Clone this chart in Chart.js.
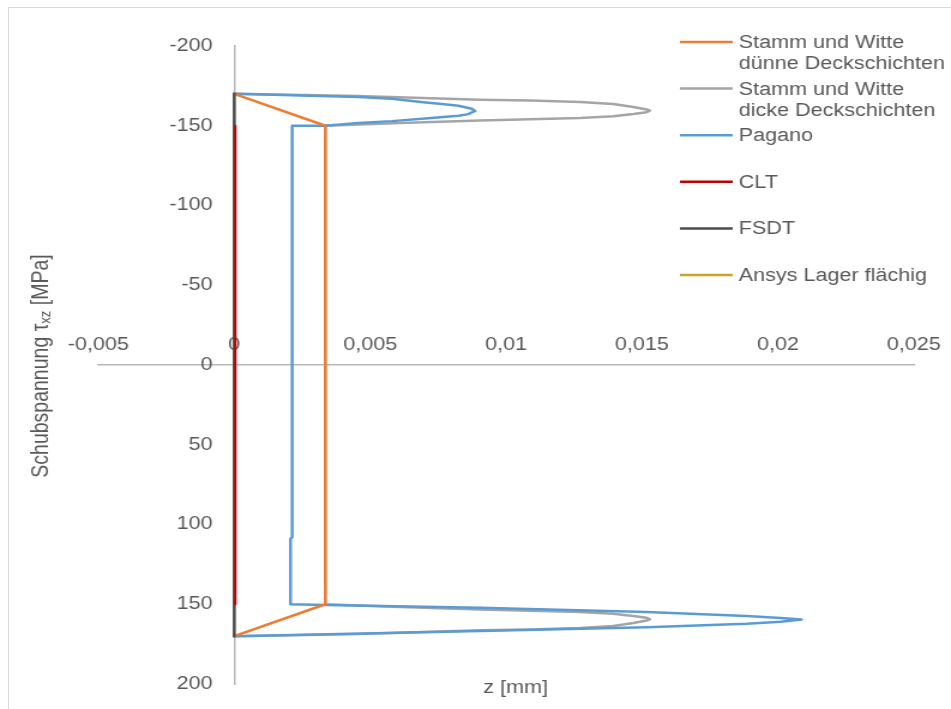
<!DOCTYPE html>
<html>
<head>
<meta charset="utf-8">
<script src="https://cdn.jsdelivr.net/npm/chart.js@4.4.1/dist/chart.umd.min.js"></script>
<style>
  html, body { margin: 0; padding: 0; background: #fff; overflow: hidden; }
  body { width: 951px; height: 709px; position: relative; }
  .frame { position: absolute; left: 8px; top: 7px; width: 960px; height: 720px; border: 1px solid #d9d9d9; }
  .stretch { position: absolute; left: 0; top: 0; transform: scaleX(1.1992); transform-origin: 0 0; }
</style>
</head>
<body>
<div class="frame"></div>
<div class="stretch"><canvas id="shearChart" width="793" height="709"></canvas></div>
<script>
// Series names, legend lines split where the text wraps
const seriesLabels = [
  ["Stamm und Witte", "dünne Deckschichten"],
  ["Stamm und Witte", "dicke Deckschichten"],
  ["Pagano"],
  ["CLT"],
  ["FSDT"],
  ["Ansys Lager flächig"]
];
const seriesColours = ["#ED7D31", "#A5A5A5", "#5B9BD5", "#C00000", "#4D4D4D", "#C9A227"];
const seriesWidths = [2.5, 2.5, 2.5, 2, 2.5, 2.5];

// x = value on the horizontal axis, y = tau_xz [MPa]
const duenneX = [0, 0.00335, 0.00335, 0];
const duenneY = [-170, -150, 150, 170];

const dickeX = [0, 0.00456, 0.00904, 0.01088, 0.01272, 0.01394, 0.01468, 0.01517, 0.01529,
  0.01517, 0.01468, 0.01394, 0.01272, 0.01088, 0.00904, 0.0061, 0.00335,
  0.00335, 0.0061, 0.00904, 0.01088, 0.01272, 0.01394, 0.01468, 0.01517, 0.01529,
  0.01517, 0.01468, 0.01394, 0.01272, 0.01088, 0.00904, 0.00456, 0];
const dickeY = [-170, -168.7, -166.3, -165.8, -164.9, -163.6, -161.8, -160.2, -159.5,
  -158.5, -157.3, -156, -154.9, -154, -153.3, -151.8, -150,
  150, 151.8, 153.3, 154, 154.9, 156, 157.3, 158.5, 159.5,
  160.2, 161.8, 163.6, 164.9, 165.8, 166.3, 168.7, 170];

const paganoX = [0, 0.00212, 0.00457, 0.0058, 0.00695, 0.00764, 0.00825, 0.00874, 0.00886,
  0.00861, 0.00825, 0.00702, 0.0058, 0.00457, 0.00335, 0.00213,
  0.00213, 0.00207, 0.00207, 0.00335, 0.00904, 0.01517, 0.01885, 0.0201, 0.02087,
  0.0201, 0.01885, 0.01517, 0.00904, 0];
const paganoY = [-170, -169.1, -168, -166.9, -164.7, -163.6, -162.5, -160.7, -159.3,
  -157.3, -156.3, -154.5, -152.9, -151.8, -150, -150,
  108, 109, 150, 150.5, 152.2, 154.8, 157.4, 158.6, 159.6,
  160.9, 162.2, 164.4, 166.8, 170];

const cltX = [0.00004, 0.00004];
const cltY = [-150, 150];

const fsdtX = [0, 0];
const fsdtY = [-170, 170];

const ansysX = [];
const ansysY = [];

// Axis ticks
const xMin = -0.005, xMax = 0.025, xStep = 0.005;
const yMin = -200, yMax = 200, yStep = 50;

const textColour = "#595959";
const fontFamily = "'Liberation Sans', Arial, sans-serif";

function toPoints(xs, ys) {
  return xs.map((x, i) => ({ x: x, y: ys[i] }));
}

const seriesData = [
  toPoints(duenneX, duenneY),
  toPoints(dickeX, dickeY),
  toPoints(paganoX, paganoY),
  toPoints(cltX, cltY),
  toPoints(fsdtX, fsdtY),
  toPoints(ansysX, ansysY)
];
// lower order ends up on top
const drawOrder = [2, 4, 3, 0, 1, 5];

const datasets = seriesData.map((pts, i) => ({
  label: seriesLabels[i].join(" "),
  data: pts,
  borderColor: seriesColours[i],
  backgroundColor: seriesColours[i],
  borderWidth: seriesWidths[i],
  borderJoinStyle: "round",
  borderCapStyle: "round",
  pointRadius: 0,
  showLine: true,
  fill: false,
  tension: 0,
  order: drawOrder[i]
}));

// Legend drawn inside the plot, top right, with wrapped names
const sideLegend = {
  id: "sideLegend",
  afterDraw(chart) {
    const ctx = chart.ctx;
    ctx.save();
    ctx.font = "18px " + fontFamily;
    ctx.fillStyle = textColour;
    ctx.textBaseline = "middle";
    ctx.textAlign = "left";
    let y = 43;
    chart.data.datasets.forEach((ds, i) => {
      ctx.strokeStyle = ds.borderColor;
      ctx.lineWidth = 2.5;
      ctx.beginPath();
      ctx.moveTo(567, y - 1);
      ctx.lineTo(611, y - 1);
      ctx.stroke();
      seriesLabels[i].forEach((t, k) => ctx.fillText(t, 616, y + k * 21));
      y += 46.6;
    });
    ctx.restore();
  }
};

// Axis titles (the y title needs a subscript)
const axisTitles = {
  id: "axisTitles",
  afterDraw(chart) {
    const ctx = chart.ctx;
    ctx.save();
    ctx.fillStyle = textColour;
    ctx.textBaseline = "middle";

    ctx.font = "18px " + fontFamily;
    ctx.textAlign = "center";
    ctx.fillText("z [mm]", 430, 688);

    const mainFont = "19.5px " + fontFamily;
    const subFont = "13px " + fontFamily;
    const partA = "Schubspannung \u03C4", partB = "xz", partC = " [MPa]";
    ctx.font = mainFont;
    const wA = ctx.measureText(partA).width, wC = ctx.measureText(partC).width;
    ctx.font = subFont;
    const wB = ctx.measureText(partB).width;
    const total = wA + wB + wC;

    ctx.translate(34.5, 366);
    ctx.rotate(-Math.PI / 2);
    ctx.textAlign = "left";
    let x = -total / 2;
    ctx.font = mainFont;
    ctx.fillText(partA, x, 0);
    x += wA;
    ctx.font = subFont;
    ctx.fillText(partB, x, 4);
    x += wB;
    ctx.font = mainFont;
    ctx.fillText(partC, x, 0);
    ctx.restore();
  }
};

const ctx = document.getElementById("shearChart").getContext("2d");
new Chart(ctx, {
  type: "scatter",
  data: { datasets: datasets },
  options: {
    responsive: false,
    animation: false,
    events: [],
    layout: { padding: { left: 82, right: 31, top: 46, bottom: 25 } },
    plugins: {
      legend: { display: false },
      tooltip: { enabled: false }
    },
    scales: {
      x: {
        type: "linear",
        position: { y: 0 },
        min: xMin,
        max: xMax,
        grid: { display: false },
        border: { display: true, color: "#b8b8b8", width: 1.5 },
        ticks: {
          stepSize: xStep,
          padding: -39,
          color: textColour,
          font: { family: fontFamily, size: 18 },
          callback: (v) => String(+v.toFixed(3)).replace(".", ",")
        }
      },
      y: {
        type: "linear",
        position: { x: 0 },
        reverse: true,
        min: yMin,
        max: yMax,
        grid: { display: false },
        border: { display: true, color: "#b8b8b8", width: 1.5 },
        ticks: {
          stepSize: yStep,
          color: textColour,
          font: { family: fontFamily, size: 18 },
          // labels of a crossing axis sit flush on the line; an em space keeps them clear of it
          callback: (v) => v + "\u2003"
        }
      }
    }
  },
  plugins: [sideLegend, axisTitles]
});
</script>
</body>
</html>
